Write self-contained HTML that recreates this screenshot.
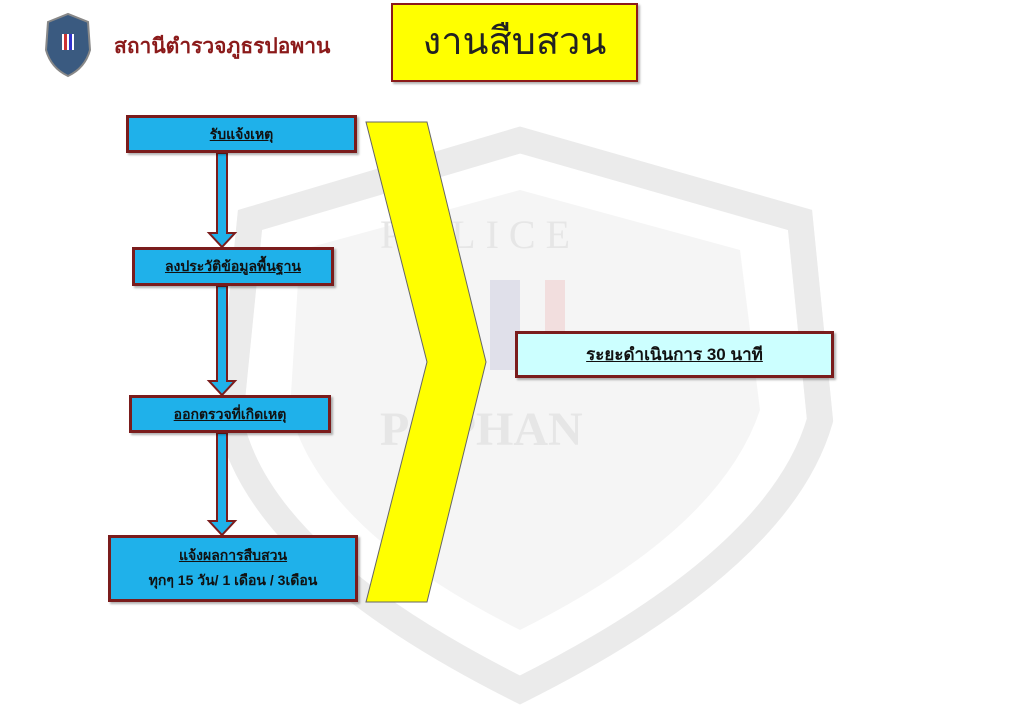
<!DOCTYPE html>
<html><head><meta charset="utf-8">
<style>
body{margin:0;width:1024px;height:709px;background:#fff;position:relative;overflow:hidden;font-family:"Liberation Sans","DejaVu Sans",sans-serif;}
.box{position:absolute;box-sizing:border-box;background:#1fb1ea;border:3px solid #7a1c1c;text-align:center;color:#111;font-weight:bold;font-size:14px;box-shadow:2px 2px 2px rgba(0,0,0,.3);}
.box u{text-decoration:underline;}
</style></head><body>
<svg width="1024" height="709" style="position:absolute;left:0;top:0">
 <g fill="none" stroke="#ebebeb" stroke-width="26">
  <path d="M250 220 L520 140 L800 220 L820 420 Q780 560 520 690 Q260 560 230 420 Z"/>
 </g>
 <g fill="#f5f5f5">
  <path d="M300 250 L520 190 L740 250 L760 410 Q720 530 520 630 Q320 530 290 410 Z"/>
 </g>
 <text x="380" y="248" font-family="Liberation Serif" font-size="40" fill="#e6e6e6" letter-spacing="10">POLICE</text>
 <text x="380" y="445" font-family="Liberation Serif" font-size="48" fill="#e6e6e6" font-weight="bold">POPHAN</text>
 <rect x="490" y="280" width="30" height="90" fill="#e0e0ea"/>
 <rect x="545" y="280" width="20" height="90" fill="#f2dede"/>
 <g fill="#1fb1ea" stroke="#7a1c1c" stroke-width="2">
  <path d="M217 153 L227 153 L227 233 L235 233 L222 247 L209 233 L217 233 Z"/>
  <path d="M217 286 L227 286 L227 381 L235 381 L222 395 L209 381 L217 381 Z"/>
  <path d="M217 433 L227 433 L227 521 L235 521 L222 535 L209 521 L217 521 Z"/>
 </g>
 <path d="M366 122 L427 122 L486 362 L427 602 L366 602 L427 362 Z" fill="#ffff00" stroke="#666" stroke-width="1"/>
 <path d="M48 22 L68 14 L88 22 L90 50 Q85 68 68 76 Q51 68 46 50 Z" fill="#3a5a80" stroke="#888" stroke-width="2"/>
 <rect x="62" y="34" width="12" height="16" fill="#fff"/>
 <rect x="64" y="34" width="3" height="16" fill="#c33"/>
 <rect x="69" y="34" width="3" height="16" fill="#33c"/>
</svg>
<div style="position:absolute;left:114px;top:30px;font-size:21px;font-weight:bold;color:#8b1a1a;">สถานีตำรวจภูธรปอพาน</div>
<div style="position:absolute;left:391px;top:3px;width:247px;height:79px;box-sizing:border-box;background:#ffff00;border:2px solid #8b1a1a;text-align:center;font-size:38px;line-height:75px;color:#222;box-shadow:2px 2px 2px rgba(0,0,0,.3)">งานสืบสวน</div>
<div class="box" style="left:126px;top:115px;width:231px;height:38px;line-height:32px"><u>รับแจ้งเหตุ</u></div>
<div class="box" style="left:132px;top:247px;width:202px;height:39px;line-height:33px"><u>ลงประวัติข้อมูลพื้นฐาน</u></div>
<div class="box" style="left:129px;top:395px;width:202px;height:38px;line-height:32px"><u>ออกตรวจที่เกิดเหตุ</u></div>
<div class="box" style="left:108px;top:535px;width:250px;height:67px;padding-top:5px;line-height:25px"><u>แจ้งผลการสืบสวน</u><br>ทุกๆ 15 วัน/ 1 เดือน / 3เดือน</div>
<div class="box" style="left:515px;top:331px;width:319px;height:47px;line-height:41px;background:#ccffff;font-size:17px"><u>ระยะดำเนินการ 30 นาที</u></div>
</body></html>
